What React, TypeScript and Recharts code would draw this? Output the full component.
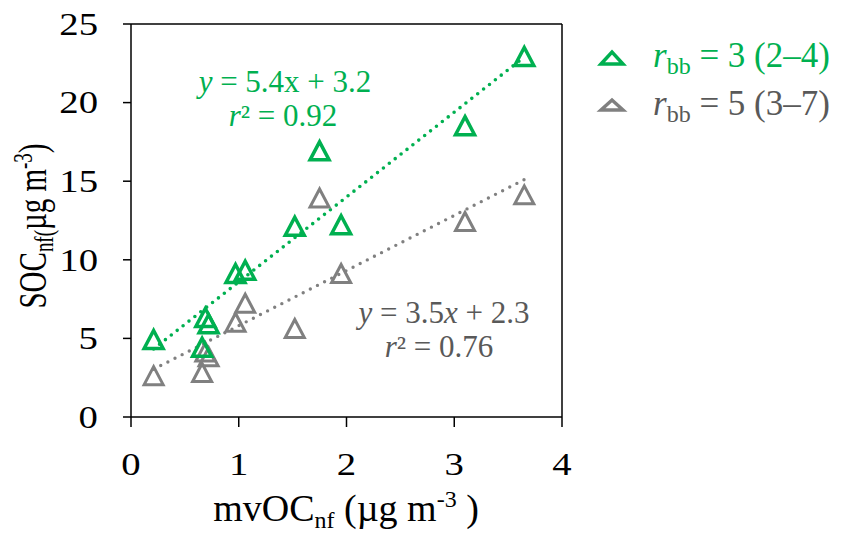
import React from 'react';
import { ScatterChart, Scatter, XAxis, YAxis, ReferenceLine } from 'recharts';

// mvOC_nf (x) shared by both r_bb cases
const mvOC = [0.21, 0.66, 0.69, 0.72, 0.97, 1.06, 1.52, 1.75, 1.95, 3.1, 3.65];
const socRbb3 = [4.9, 4.4, 6.3, 5.9, 9.1, 9.3, 12.1, 16.9, 12.2, 18.5, 22.9];
const socRbb5 = [2.6, 2.8, 4.1, 3.8, 6.0, 7.2, 5.6, 13.9, 9.1, 12.4, 14.1];

// regression line end points
const fitRbb3 = [
    { x: 0.21, y: 4.33 },
    { x: 3.65, y: 22.9 },
];
const fitRbb5 = [
    { x: 0.21, y: 3.04 },
    { x: 3.65, y: 15.1 },
];

const xTicks = [0, 1, 2, 3, 4];
const yTicks = [0, 5, 10, 15, 20, 25];

const GREEN = '#00b050';
const GREY = '#808080';
const GREY_TEXT = '#595959';
const FONT = '"Liberation Serif", "Times New Roman", serif';

const rbb3 = mvOC.map((x, i) => ({ x, y: socRbb3[i] }));
const rbb5 = mvOC.map((x, i) => ({ x, y: socRbb5[i] }));

const triangle = (color: string, width: number) => (props: any) => {
    const { cx, cy } = props;
    return (
        <path
            d={`M${cx},${cy - 9.5} L${cx + 9.5},${cy + 8.5} L${cx - 9.5},${cy + 8.5} Z`}
            fill="none"
            stroke={color}
            strokeWidth={width}
        />
    );
};

const XTick = (props: any) => {
    const { x, y, payload } = props;
    return (
        <text
            transform={`translate(${x},${y + 48}) scale(1.25,1)`}
            textAnchor="middle"
            fontFamily={FONT}
            fontSize={31}
            fill="#000"
        >
            {payload.value}
        </text>
    );
};

const YTick = (props: any) => {
    const { x, y, payload } = props;
    return (
        <text
            transform={`translate(${x - 25},${y}) scale(1.25,1)`}
            textAnchor="end"
            dy="0.35em"
            fontFamily={FONT}
            fontSize={31}
            fill="#000"
        >
            {payload.value}
        </text>
    );
};

const noDot = () => <g />;

const App: React.FC = () => {
    return (
        <div style={{ position: 'absolute', left: 0, top: 0, width: 845, height: 535, background: '#fff' }}>
            <ScatterChart width={845} height={535} margin={{ top: 24, right: 283, bottom: 0, left: 0 }}>
                <XAxis
                    type="number"
                    dataKey="x"
                    domain={[0, 4]}
                    ticks={xTicks}
                    height={118}
                    tickSize={10}
                    tickMargin={0}
                    tick={<XTick />}
                    axisLine={{ stroke: '#000', strokeWidth: 1.5 }}
                    tickLine={{ stroke: '#000', strokeWidth: 1.5 }}
                />
                <YAxis
                    type="number"
                    dataKey="y"
                    domain={[0, 25]}
                    ticks={yTicks}
                    width={131}
                    tickSize={8}
                    tickMargin={0}
                    tick={<YTick />}
                    axisLine={{ stroke: '#000', strokeWidth: 1.5 }}
                    tickLine={{ stroke: '#000', strokeWidth: 1.5 }}
                />
                <ReferenceLine y={25} stroke="#000" strokeWidth={1.5} />
                <ReferenceLine x={4} stroke="#000" strokeWidth={1.5} />
                <Scatter
                    data={fitRbb5}
                    line={{ stroke: GREY, strokeWidth: 3.4, strokeDasharray: '0 8', strokeLinecap: 'round' }}
                    shape={noDot}
                    isAnimationActive={false}
                />
                <Scatter
                    data={fitRbb3}
                    line={{ stroke: GREEN, strokeWidth: 3.6, strokeDasharray: '0 7.5', strokeLinecap: 'round' }}
                    shape={noDot}
                    isAnimationActive={false}
                />
                <Scatter data={rbb5} shape={triangle(GREY, 3)} isAnimationActive={false} />
                <Scatter data={rbb3} shape={triangle(GREEN, 3.5)} isAnimationActive={false} />
            </ScatterChart>
            <svg
                width={845}
                height={535}
                style={{ position: 'absolute', left: 0, top: 0, pointerEvents: 'none' }}
                fontFamily={FONT}
            >
                {/* regression labels */}
                <text x={285} y={92} textAnchor="middle" fontSize={31} fill={GREEN}>
                    <tspan fontStyle="italic">y</tspan> = 5.4x + 3.2
                </text>
                <text x={283} y={126} textAnchor="middle" fontSize={31} fill={GREEN}>
                    <tspan fontStyle="italic">r</tspan>² = 0.92
                </text>
                <text x={444} y={323} textAnchor="middle" fontSize={31} fill={GREY_TEXT}>
                    <tspan fontStyle="italic">y</tspan> = 3.5<tspan fontStyle="italic">x</tspan> + 2.3
                </text>
                <text x={439} y={357} textAnchor="middle" fontSize={31} fill={GREY_TEXT}>
                    <tspan fontStyle="italic">r</tspan>² = 0.76
                </text>

                {/* axis titles */}
                <text x={346} y={521} textAnchor="middle" fontSize={38} fill="#000">
                    mvOC
                    <tspan fontSize={24} dy={7}>nf</tspan>
                    <tspan fontSize={38} dy={-7}> (µg m</tspan>
                    <tspan fontSize={24} dy={-14}>-3</tspan>
                    <tspan fontSize={38} dy={14}> )</tspan>
                </text>
                <text
                    transform="translate(46,226) rotate(-90) scale(1,1.4)"
                    textAnchor="middle"
                    fontSize={29}
                    fill="#000"
                >
                    SOC
                    <tspan fontSize={19} dy={5}>nf(</tspan>
                    <tspan fontSize={29} dy={-5}>µg m</tspan>
                    <tspan fontSize={19} dy={-10}>-3</tspan>
                    <tspan fontSize={29} dy={10}>)</tspan>
                </text>

                {/* legend */}
                <path d="M601,64 L612,52 L623,64 Z" fill="none" stroke={GREEN} strokeWidth={3.5} />
                <text x={653} y={67} fontSize={35} fill={GREEN}>
                    <tspan fontStyle="italic">r</tspan>
                    <tspan fontSize={24} dy={7}>bb</tspan>
                    <tspan fontSize={35} dy={-7}> = 3 (2–4)</tspan>
                </text>
                <path d="M601,110 L612,100 L623,110 Z" fill="none" stroke={GREY} strokeWidth={3.5} />
                <text x={653} y={115} fontSize={35} fill={GREY_TEXT}>
                    <tspan fontStyle="italic">r</tspan>
                    <tspan fontSize={24} dy={7}>bb</tspan>
                    <tspan fontSize={35} dy={-7}> = 5 (3–7)</tspan>
                </text>
            </svg>
        </div>
    );
};

export default App;
